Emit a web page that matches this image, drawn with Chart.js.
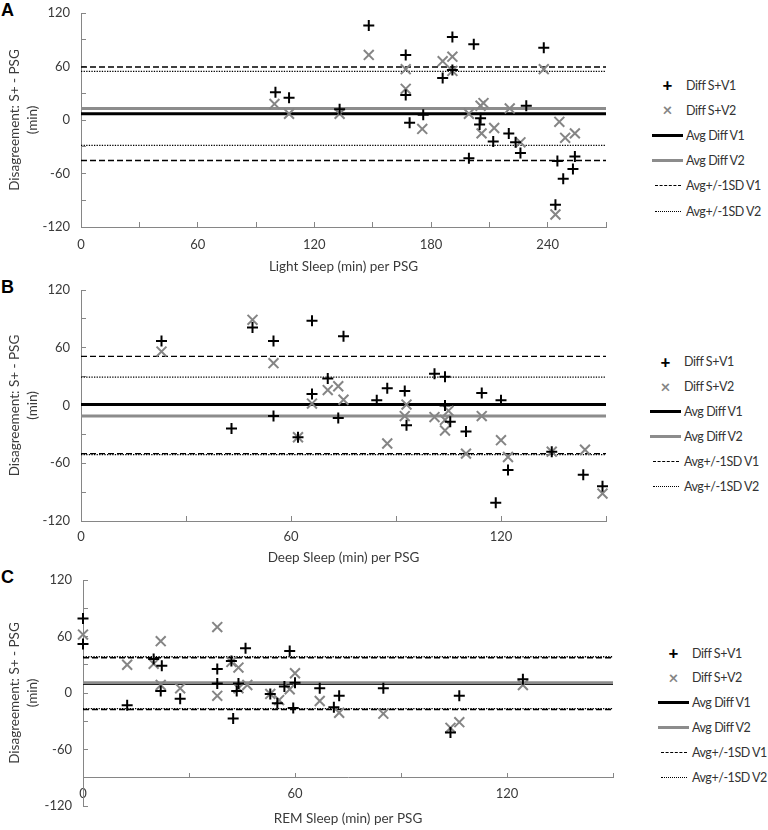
<!DOCTYPE html>
<html>
<head>
<meta charset="utf-8">
<title>Disagreement S+ vs PSG</title>
<script src="https://cdn.jsdelivr.net/npm/chart.js@4.4.1/dist/chart.umd.min.js"></script>
<style>
  html, body { margin: 0; padding: 0; background: #fff; overflow: hidden; }
  body { position: relative; width: 768px; height: 830px; font-family: Lato, "Open Sans", sans-serif; color: #404040; }
  canvas { position: absolute; left: 0; }
  .tag { position: absolute; left: 1px; font: bold 18px "Liberation Sans", Arial, sans-serif; color: #000; }
  .key { position: absolute; display: flex; align-items: center; height: 18px; font-size: 12.5px; letter-spacing: -0.45px; white-space: nowrap; color: #333; }
  .key .mk { width: 31px; margin-right: 3px; display: flex; justify-content: center; align-items: center; height: 18px; letter-spacing: 0; }
  .key .ln { display: block; width: 31px; height: 0; }
</style>
</head>
<body>
<div class="tag" style="top:0px">A</div>
<div class="tag" style="top:277px">B</div>
<div class="tag" style="top:567px">C</div>
<canvas id="chartA" width="640" height="280" style="top:0"></canvas>
<canvas id="chartB" width="640" height="292" style="top:277px"></canvas>
<canvas id="chartC" width="640" height="263" style="top:567px"></canvas>
<script>
// ---- data (x = minutes per PSG, y = S+ minus PSG) ----
const yLabels = [-120, -60, 0, 60, 120];
const lightXLabels = [0, 60, 120, 180, 240];
const shortXLabels = [0, 60, 120];

// A: light sleep
const lightV1 = [[100,31],[107,25],[133,12],[148,106],[167,73],[167,28],[169,-3],[176,6],[186,47],[191,93],[191,56],[202,85],[199.5,-43],[205.5,2],[205,-5],[212,-24],[220,-15],[223.5,-25],[226,-37],[229,16],[238,81],[245,-46],[248,-66],[244,-95],[254,-41],[253,-55]];
const lightV2 = [[99.5,18],[107,7],[133,7],[148,73],[167,57],[167,35],[175.5,-10],[186,66],[191,71],[191,55],[199.5,7],[205.5,16],[207,19],[206,-15],[212.5,-9],[220.5,13],[226,-25],[238,57],[246,-2],[249,-20],[254,-15],[244,-106]];
const lightAvg = [7, 13];
const lightUpper = [59.5, 54.5];
const lightLower = [-45.5, -28.5];

// B: deep sleep
const deepV1 = [[23,67],[43,-24],[49,81],[55,67],[55,-11],[62,-33],[66,88],[66,12],[70.5,28],[73.5,-13],[75,72],[84.5,5.5],[87.5,18],[92.5,15],[93,-20.5],[101,33],[104,30],[104,0],[105.5,-17],[110,-27],[114.5,13],[120,5.5],[122,-67],[118.5,-101],[134.5,-48],[143.5,-72],[149,-84]];
const deepV2 = [[23,56],[49,89],[55,44],[62,-33],[66,2],[70.5,16],[73.5,20],[75,6],[87.5,-39.5],[93,1],[92.5,-11],[101,-12],[105,-5.5],[104,-15],[104,-26],[110,-50],[114.5,-11],[120,-36],[122,-53.5],[134.5,-48],[144,-46],[149,-91.5]];
const deepAvg = [1, -11];
const deepUpper = [51, 29.5];
const deepLower = [-50, -51];

// C: REM sleep
const remV1 = [[0,79],[0,52],[12.5,-13],[20,36],[22.3,29],[22,2],[27.5,-6],[38,25.5],[38,10],[42,34],[44,10],[43.5,2],[42.5,-27],[46,47.5],[53,-1],[55,-11],[57,7],[58.5,44.5],[60,11],[59.5,-16],[67,5],[72.5,-3],[71,-15],[85,5],[104,-42],[106.5,-3],[124.5,14.5]];
const remV2 = [[0,62],[12.5,30],[20,31],[22,55],[22,8.5],[27.5,5],[38,70],[38,-3],[42,33],[44,27],[44,5],[46.5,8.5],[53,-1],[55.5,-7.5],[58.5,4],[60,21],[67,-8.5],[72.5,-21],[85,-22],[104,-37],[106.5,-31],[124.5,8.5]];
const remAvg = [10, 11];
const remUpper = [37.5, 38.5];
const remLower = [-17.5, -16.5];

const legendLabels = ['Diff S+V1', 'Diff S+V2', 'Avg Diff V1', 'Avg Diff V2', 'Avg+/-1SD V1', 'Avg+/-1SD V2'];

const axisGray = '#868686';
const textColor = '#3a3a3a';
const markGray = '#858585';
const lineGray = '#8c8c8c';
const tickFont = { family: 'Lato', size: 13 };
const titleFont = { family: 'Lato', size: 13.5 };

function buildPanel(canvasId, o) {
  const pts = arr => arr.map(([x, y]) => ({ x, y }));
  const hline = (label, y, color, width, dash) => ({
    label, data: [{ x: 0, y }, { x: o.xMax, y }], showLine: true,
    borderColor: color, borderWidth: width, borderDash: dash,
    pointRadius: 0, clip: false
  });

  new Chart(document.getElementById(canvasId), {
    type: 'scatter',
    data: {
      datasets: [
        { label: legendLabels[0], data: pts(o.v1), pointStyle: 'cross', pointRadius: 5.5, pointBorderWidth: 2, pointBorderColor: '#000', clip: false },
        { label: legendLabels[1], data: pts(o.v2), pointStyle: 'crossRot', pointRadius: 7, pointBorderWidth: 2, pointBorderColor: markGray, clip: false },
        hline(legendLabels[3], o.avg[1], lineGray, 3, []),
        hline(legendLabels[2], o.avg[0], '#000', 3, []),
        hline(legendLabels[4], o.upper[0], '#000', 1.4, [6, 3]),
        hline(legendLabels[4], o.lower[0], '#000', 1.4, [6, 3]),
        hline(legendLabels[5], o.upper[1], '#000', 1.3, [1.3, 1.3]),
        hline(legendLabels[5], o.lower[1], '#000', 1.3, [1.3, 1.3])
      ]
    },
    options: {
      responsive: false,
      animation: false,
      devicePixelRatio: 1,
      events: [],
      layout: { padding: { top: 13, right: o.padRight, left: 0, bottom: o.padBottom } },
      plugins: { legend: { display: false }, tooltip: { enabled: false } },
      scales: {
        x: {
          type: 'linear', min: 0, max: o.xMax, position: o.xPos,
          afterFit: s => { s.height = o.xH; s.paddingLeft = 0; s.paddingRight = 0; },
          ticks: {
            stepSize: 30, autoSkip: false, maxRotation: 0, padding: o.xPad,
            color: textColor, font: tickFont,
            callback: v => o.xLabels.includes(v) ? v : ''
          },
          grid: { drawOnChartArea: false, drawTicks: true, tickLength: -5, color: axisGray },
          border: { color: axisGray, width: 1 },
          title: { display: true, text: o.xTitle, color: textColor, font: titleFont, padding: { top: 0, bottom: o.xTitlePad } }
        },
        y: {
          type: 'linear', min: -120, max: 120,
          afterFit: s => { s.width = o.yW; s.paddingTop = 0; s.paddingBottom = 0; },
          ticks: {
            stepSize: 30, autoSkip: false, padding: 16,
            color: textColor, font: tickFont,
            callback: v => yLabels.includes(v) ? v : ''
          },
          grid: { drawOnChartArea: false, drawTicks: true, tickLength: -5, color: axisGray },
          border: { color: axisGray, width: 1 },
          title: {
            display: true, text: ['Disagreement: S+ - PSG', '(min)'], color: textColor,
            font: { family: 'Lato', size: 13.5, lineHeight: 1.3 }, padding: { top: 6, bottom: 0 }
          }
        }
      }
    }
  });
}

// legend, drawn as html next to each panel
const legendMarks = [
  '<span style="font-weight:900;font-size:17px;color:#000;line-height:18px">+</span>',
  '<span style="font-weight:700;font-size:17px;color:' + markGray + ';line-height:18px">×</span>',
  '<span class="ln" style="border-top:3px solid #000"></span>',
  '<span class="ln" style="border-top:3px solid ' + lineGray + '"></span>',
  '<span class="ln" style="border-top:1.5px dashed #000;width:26px"></span>',
  '<span class="ln" style="border-top:1px dotted #000;width:26px"></span>'
];

function drawLegend(x0, y0, step) {
  legendLabels.forEach((label, i) => {
    const div = document.createElement('div');
    div.className = 'key';
    div.style.left = x0 + 'px';
    div.style.top = (y0 + i * step - 9) + 'px';
    div.innerHTML = '<span class="mk">' + legendMarks[i] + '</span>' + label;
    document.body.appendChild(div);
  });
}

buildPanel('chartA', {
  v1: lightV1, v2: lightV2, avg: lightAvg, upper: lightUpper, lower: lightLower,
  xMax: 270, xLabels: lightXLabels, xTitle: 'Light Sleep (min) per PSG', xPos: 'bottom',
  xH: 53, xPad: 14.6, xTitlePad: 5.6, yW: 81, padRight: 34, padBottom: 0
});
buildPanel('chartB', {
  v1: deepV1, v2: deepV2, avg: deepAvg, upper: deepUpper, lower: deepLower,
  xMax: 150, xLabels: shortXLabels, xTitle: 'Deep Sleep (min) per PSG', xPos: 'bottom',
  xH: 48, xPad: 12.6, xTitlePad: 3.6, yW: 81, padRight: 34, padBottom: 0
});
buildPanel('chartC', {
  v1: remV1, v2: remV2, avg: remAvg, upper: remUpper, lower: remLower,
  xMax: 150, xLabels: shortXLabels, xTitle: 'REM Sleep (min) per PSG', xPos: { y: -90 },
  xH: 53, xPad: 12.9, xTitlePad: 3.6, yW: 83, padRight: 27, padBottom: 24
});

drawLegend(652, 85, 25.2);
drawLegend(650, 361.7, 25);
drawLegend(658, 653, 24.9);
</script>
</body>
</html>
